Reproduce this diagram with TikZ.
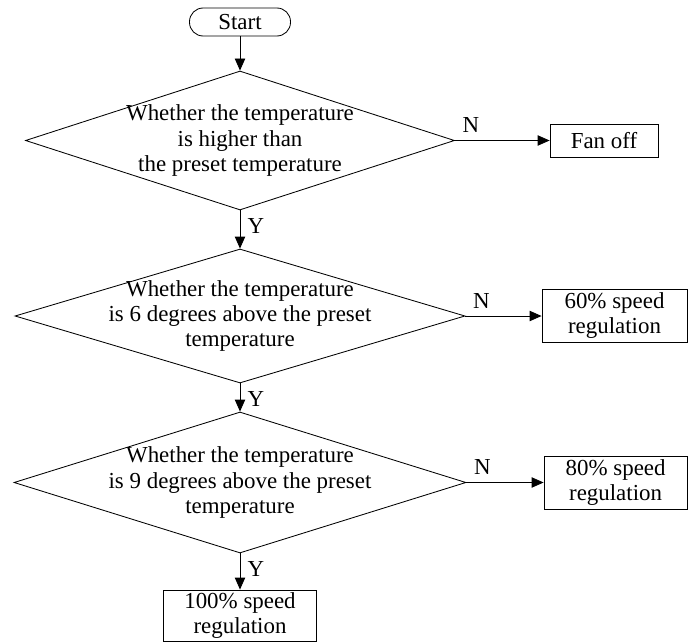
\documentclass[tikz,border=0pt]{standalone}
\usepackage{fontspec}
\setmainfont{Liberation Serif}
\usetikzlibrary{shapes.geometric,arrows.meta}

\tikzset{
  flowline/.style={line width=0.6pt, -{Triangle[length=0.3cm,width=0.26cm]}},
  terminal/.style={draw, line width=0.6pt, rounded corners=0.34cm, minimum width=2.525cm, minimum height=0.7cm, inner sep=0pt},
  decision/.style={draw, diamond, line width=0.6pt, inner sep=0pt},
  action/.style={draw, line width=0.6pt, inner sep=0pt, align=center},
  yn/.style={inner sep=0.18cm}
}

\begin{document}
\begin{tikzpicture}[font=\fontsize{16.3}{17.8}\selectfont]
    \useasboundingbox (0,0) rectangle (17.2,-16.05);

    % Start of the flow
    \node[terminal] (start) at (6.0,-0.55) {Start};

    % First test: above the preset value at all
    \node[decision, minimum width=10.725cm, minimum height=3.475cm] (test1) at (6.0,-3.5125) {};
    \node[align=center] (test1txt) at (test1.center) {Whether the temperature\\is higher than\\the preset temperature};
    \node[action, minimum width=2.7cm, minimum height=0.825cm] (fanoff) at (15.1,-3.5125) {Fan off};

    % Second test: 6 degrees above
    \node[decision, minimum width=11.25cm, minimum height=3.35cm] (test2) at (6.0,-7.9) {};
    \node[align=center] (test2txt) at (test2.center) {Whether the temperature\\is 6 degrees above the preset\\temperature};
    \node[action, minimum width=3.625cm, minimum height=1.325cm] (speed60) at (15.3625,-7.9) {60\% speed\\regulation};

    % Third test: 9 degrees above
    \node[decision, minimum width=11.3cm, minimum height=3.525cm] (test3) at (6.0,-12.0625) {};
    \node[align=center] (test3txt) at (test3.center) {Whether the temperature\\is 9 degrees above the preset\\temperature};
    \node[action, minimum width=3.58cm, minimum height=1.325cm] (speed80) at (15.39,-12.0625) {80\% speed\\regulation};

    % Full speed
    \node[action, minimum width=3.825cm, minimum height=1.28cm] (speed100) at (6.0,-15.39) {100\% speed\\regulation};

    % Connectors
    \draw[flowline] (start) -- (test1.north);
    \draw[flowline] (test1.east) -- node[yn, pos=0, above right] (n1) {N} (fanoff);
    \draw[flowline] (test1.south) -- node[yn, pos=0, below right] (y1) {Y} (test2.north);
    \draw[flowline] (test2.east) -- node[yn, pos=0, above right] (n2) {N} (speed60);
    \draw[flowline] (test2.south) -- node[yn, pos=0, below right] (y2) {Y} (test3.north);
    \draw[flowline] (test3.east) -- node[yn, pos=0, above right] (n3) {N} (speed80);
    \draw[flowline] (test3.south) -- node[yn, pos=0, below right] (y3) {Y} (speed100);
\end{tikzpicture}
\end{document}
